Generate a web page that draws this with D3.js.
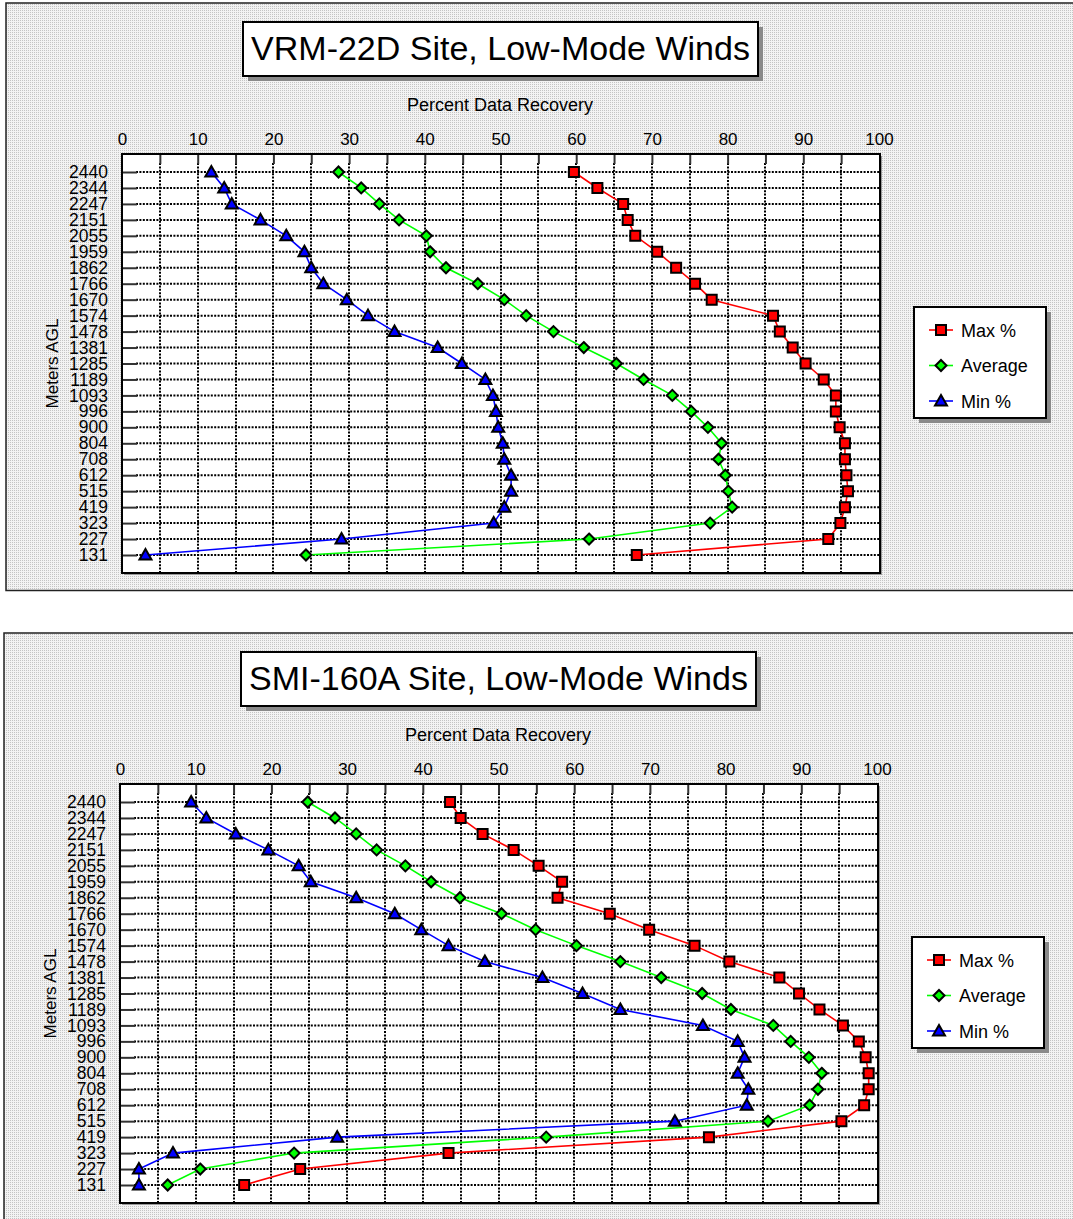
<!DOCTYPE html>
<html>
<head>
<meta charset="utf-8">
<script src="https://cdn.jsdelivr.net/npm/d3@7"></script>
<style>
  body { margin: 0; background: #fff; }
  svg { display: block; font-family: "Liberation Sans", Arial, sans-serif; }
  text { fill: #000; }
</style>
</head>
<body>
<svg id="chart" width="1073" height="1219"></svg>
<script>
// Heights (m AGL), top to bottom as on the chart
const heights = [2440, 2344, 2247, 2151, 2055, 1959, 1862, 1766, 1670, 1574, 1478, 1381,
  1285, 1189, 1093, 996, 900, 804, 708, 612, 515, 419, 323, 227, 131];

// VRM-22D site
const vrmMax = [59.7, 62.8, 66.2, 66.8, 67.8, 70.7, 73.2, 75.7, 77.9, 86.0, 86.9, 88.6,
  90.3, 92.7, 94.3, 94.3, 94.8, 95.5, 95.5, 95.7, 95.9, 95.5, 94.9, 93.3, 68.0];
const vrmAvg = [28.6, 31.6, 34.0, 36.6, 40.2, 40.7, 42.8, 47.0, 50.5, 53.4, 57.0, 61.0,
  65.3, 68.9, 72.7, 75.2, 77.4, 79.2, 78.8, 79.7, 80.1, 80.6, 77.7, 61.7, 24.3];
const vrmMin = [11.8, 13.5, 14.5, 18.3, 21.7, 24.1, 25.0, 26.6, 29.7, 32.5, 36.0, 41.7,
  44.9, 48.0, 49.0, 49.4, 49.7, 50.3, 50.5, 51.4, 51.4, 50.5, 49.1, 29.0, 3.1];

// SMI-160A site
const smiMax = [43.6, 45.0, 47.9, 52.0, 55.3, 58.4, 57.8, 64.7, 69.9, 75.9, 80.5, 87.1,
  89.7, 92.4, 95.5, 97.6, 98.5, 98.9, 98.9, 98.3, 95.3, 77.8, 43.4, 23.8, 16.4];
const smiAvg = [24.8, 28.4, 31.2, 33.9, 37.7, 41.1, 44.9, 50.4, 54.9, 60.3, 66.1, 71.5,
  76.9, 80.7, 86.3, 88.6, 91.0, 92.7, 92.2, 91.1, 85.6, 56.3, 23.0, 10.6, 6.3];
const smiMin = [9.4, 11.4, 15.3, 19.6, 23.6, 25.2, 31.2, 36.3, 39.8, 43.4, 48.2, 55.8,
  61.1, 66.1, 77.0, 81.6, 82.5, 81.6, 83.0, 82.8, 73.3, 28.7, 7.0, 2.5, 2.5];

const seriesNames = ['Max %', 'Average', 'Min %'];
const seriesColors = ['#ff0000', '#00ff00', '#0000ff'];
const seriesShapes = ['square', 'diamond', 'triangle'];
const xTicks = d3.range(0, 101, 10);
const xMinor = d3.range(5, 100, 5);

const svg = d3.select('#chart');

// dithered gray background like the original export
const defs = svg.append('defs');
const pat = defs.append('pattern').attr('id', 'dither')
  .attr('width', 2).attr('height', 2).attr('patternUnits', 'userSpaceOnUse');
pat.append('rect').attr('width', 2).attr('height', 2).attr('fill', '#f3f3f3');
pat.append('rect').attr('width', 1).attr('height', 1).attr('fill', '#c4c4c4');

const markerPath = (shape) => {
  if (shape === 'square') return 'M-5,-5H5V5H-5Z';
  if (shape === 'diamond') return 'M0,-5.5L5.5,0L0,5.5L-5.5,0Z';
  return 'M0,-6L6,4.5H-6Z';
};

function drawChart(title, data, dx, dy) {
  const g = svg.append('g').attr('transform', `translate(${dx},${dy})`);

  // panel
  g.append('rect').attr('x', 6).attr('y', 3).attr('width', 1080).attr('height', 587.5)
    .attr('fill', 'url(#dither)').attr('stroke', '#222').attr('stroke-width', 1.5);

  // title box with shadow
  g.append('rect').attr('x', 248).attr('y', 27).attr('width', 515).attr('height', 54)
    .attr('fill', '#8a8a8a');
  g.append('rect').attr('x', 243).attr('y', 22).attr('width', 515).attr('height', 54)
    .attr('fill', '#fff').attr('stroke', '#000').attr('stroke-width', 2);
  g.append('text').attr('x', 500.5).attr('y', 60).attr('text-anchor', 'middle')
    .attr('font-size', 34).text(title);

  const x0 = 122, x1 = 880, y0 = 154, y1 = 573;
  const x = d3.scaleLinear().domain([0, 100]).range([122, 879]);
  const y = d3.scalePoint().domain(heights).range([172, 555]);

  // plot frame
  g.append('rect').attr('x', x0 + 2).attr('y', y0 + 2).attr('width', x1 - x0).attr('height', y1 - y0)
    .attr('fill', '#9a9a9a');
  g.append('rect').attr('x', x0).attr('y', y0).attr('width', x1 - x0).attr('height', y1 - y0)
    .attr('fill', '#fff');

  // dotted grid
  g.append('g').selectAll('line').data(heights).join('line')
    .attr('x1', x0 + 14).attr('x2', x1).attr('y1', d => y(d)).attr('y2', d => y(d))
    .attr('stroke', '#000').attr('stroke-width', 2).attr('stroke-dasharray', '2,1.4');
  g.append('g').selectAll('line').data(xMinor).join('line')
    .attr('x1', d => Math.round(x(d))).attr('x2', d => Math.round(x(d)))
    .attr('y1', y0 + 9).attr('y2', y1)
    .attr('stroke', '#000').attr('stroke-width', 2).attr('stroke-dasharray', '2,1.4');

  // top axis: labels every 10, inner ticks every 5
  const top = g.append('g').attr('transform', `translate(0,${y0})`)
    .call(d3.axisTop(x).tickValues(xTicks).tickSize(0).tickPadding(9));
  top.select('.domain').remove();
  top.selectAll('text').attr('font-size', 17).attr('font-family', null).attr('fill', '#000');
  const topTicks = g.append('g').attr('transform', `translate(0,${y0})`)
    .call(d3.axisTop(x).tickValues(xMinor).tickSize(-10).tickFormat(''));
  topTicks.select('.domain').remove();
  topTicks.selectAll('line').attr('stroke', '#333').attr('stroke-width', 2);

  // left axis
  const left = g.append('g').attr('transform', `translate(${x0},0)`)
    .call(d3.axisLeft(y).tickSize(-15).tickPadding(14));
  left.select('.domain').remove();
  left.selectAll('line').attr('stroke', '#333').attr('stroke-width', 2);
  left.selectAll('text').attr('font-size', 17.5).attr('font-family', null).attr('fill', '#000');

  g.append('rect').attr('x', x0).attr('y', y0).attr('width', x1 - x0).attr('height', y1 - y0)
    .attr('fill', 'none').attr('stroke', '#000').attr('stroke-width', 2);

  g.append('text').attr('x', 500).attr('y', 111).attr('text-anchor', 'middle')
    .attr('font-size', 18).text('Percent Data Recovery');
  g.append('text').attr('transform', `translate(58,${(y0 + y1) / 2}) rotate(-90)`)
    .attr('text-anchor', 'middle').attr('font-size', 17).text('Meters AGL');

  // series
  const line = d3.line().x(d => x(d[1])).y(d => y(d[0]));
  data.forEach((vals, i) => {
    const pts = heights.map((h, j) => [h, vals[j]]);
    g.append('path').attr('d', line(pts)).attr('fill', 'none')
      .attr('stroke', seriesColors[i]).attr('stroke-width', 1.6);
    g.append('g').selectAll('path').data(pts).join('path')
      .attr('transform', d => `translate(${x(d[1])},${y(d[0])})`)
      .attr('d', markerPath(seriesShapes[i]))
      .attr('fill', seriesColors[i]).attr('stroke', '#000').attr('stroke-width', 2)
      .attr('stroke-linejoin', 'miter');
  });

  // legend
  const lg = g.append('g');
  lg.append('rect').attr('x', 919).attr('y', 312).attr('width', 132).attr('height', 111)
    .attr('fill', '#8a8a8a');
  lg.append('rect').attr('x', 914).attr('y', 307).attr('width', 132).attr('height', 111)
    .attr('fill', '#fff').attr('stroke', '#000').attr('stroke-width', 2);
  const items = lg.selectAll('g.item').data(seriesNames).join('g').attr('class', 'item')
    .attr('transform', (d, i) => `translate(0,${330 + i * 35.5})`);
  items.append('line').attr('x1', 929).attr('x2', 953)
    .attr('stroke', (d, i) => seriesColors[i]).attr('stroke-width', 1.6);
  items.append('path').attr('transform', 'translate(941,0)')
    .attr('d', (d, i) => markerPath(seriesShapes[i]))
    .attr('fill', (d, i) => seriesColors[i]).attr('stroke', '#000').attr('stroke-width', 2);
  items.append('text').attr('x', 961).attr('y', 6.5).attr('font-size', 18).text(d => d);
}

drawChart('VRM-22D Site, Low-Mode Winds', [vrmMax, vrmAvg, vrmMin], 0, 0);
drawChart('SMI-160A Site, Low-Mode Winds', [smiMax, smiAvg, smiMin], -2, 630);
</script>
</body>
</html>
